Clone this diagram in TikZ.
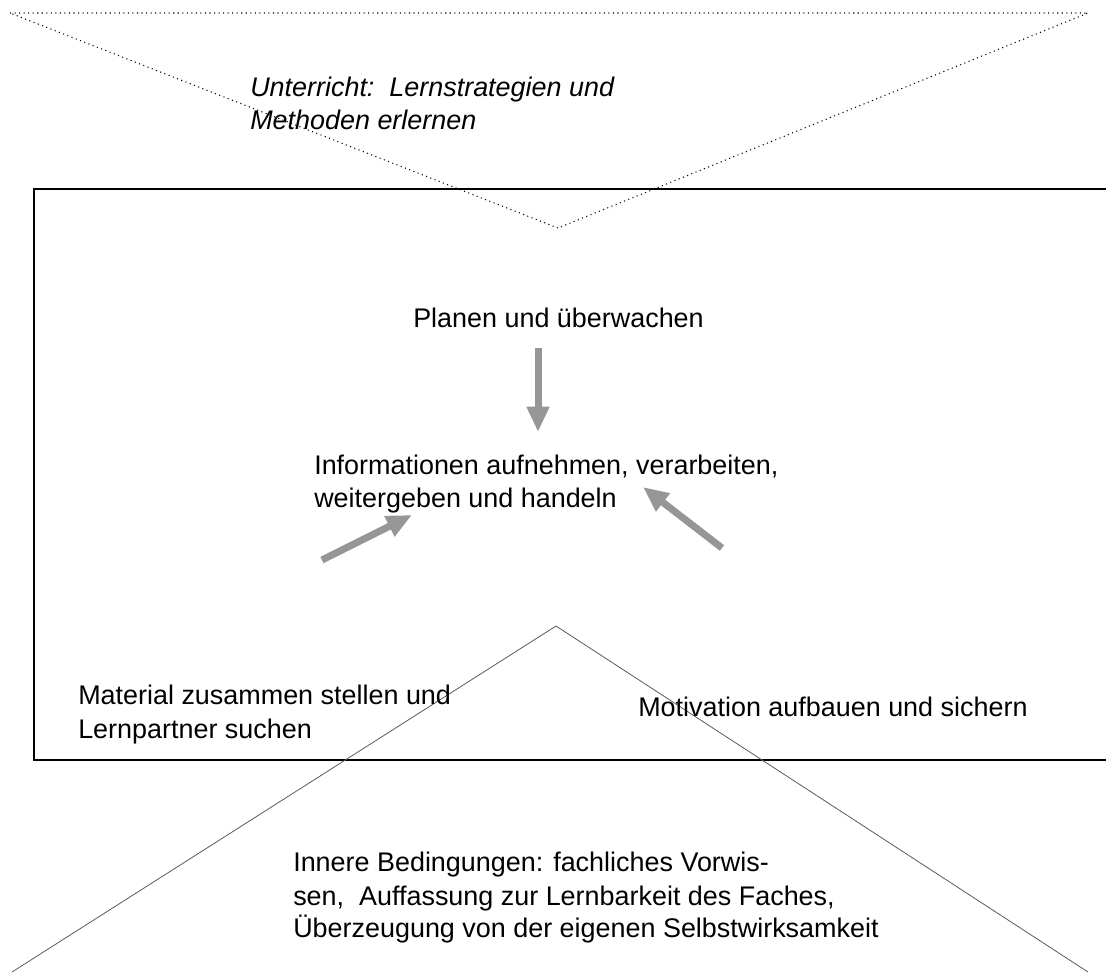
\documentclass[tikz,border=0pt]{standalone}
\usepackage{fontspec}
\setmainfont{Liberation Sans}
\usetikzlibrary{arrows.meta}
\definecolor{arrowgray}{RGB}{150,150,150}
\definecolor{thingray}{RGB}{90,90,90}
\tikzset{
  lbl/.style={anchor=base west, inner sep=0pt, font=\fontsize{20.2}{24.75}\selectfont},
  ilbl/.style={lbl, font=\fontsize{20.2}{24.75}\selectfont\itshape},
  garrow/.style={draw=arrowgray, line width=5.25pt, -{Triangle[length=19pt,width=16pt]}},
  dotline/.style={line width=0.8pt, dash pattern=on 0.8pt off 2.6pt},
  frame/.style={line width=1.5pt},
  thinline/.style={draw=thingray, line width=0.6pt}
}
\begin{document}
\begin{tikzpicture}[x=0.75pt,y=-0.75pt]
\useasboundingbox (0,0) rectangle (1106,972);
\begin{scope}
\clip (0,0) rectangle (1106,972);
% top dotted triangle
\draw[dotline] (10,13) -- (1088,13) -- (558,228) -- cycle;
% frame
\draw[frame] (34,189) rectangle (1125,760);
% bottom triangle
\coordinate (apex) at (556,626);
\coordinate (bl) at (12,972);
\coordinate (br) at (1088,972);
\draw[thinline] (bl) -- (apex) -- (br);
\end{scope}
% texts
\node[ilbl] (u1) at (250,96) {Unterricht:\ \ Lernstrategien und};
\node[ilbl] (u2) at (250,129) {Methoden erlernen};
\node[lbl] (plan) at (413,327) {Planen und überwachen};
\node[lbl] (info1) at (314,474) {Informationen aufnehmen, verarbeiten,};
\node[lbl] (info2) at (314,507) {weitergeben und handeln};
\node[lbl] (mat1) at (78,704) {Material zusammen stellen und};
\node[lbl] (mat2) at (78,738) {Lernpartner suchen};
\node[lbl] (mot) at (638,716) {Motivation aufbauen und sichern};
\node[lbl] (inn1) at (293,871) {Innere Bedingungen: fachliches Vorwis-};
\node[lbl] (inn2) at (293,905) {sen,\ \ Auffassung zur Lernbarkeit des Faches,};
\node[lbl] (inn3) at (293,937) {Überzeugung von der eigenen Selbstwirksamkeit};
% arrows
\coordinate (a1s) at (538,348);
\coordinate (a1e) at (538,432);
\coordinate (a2s) at (322,560);
\coordinate (a2e) at (412,515);
\coordinate (a3s) at (722,548);
\coordinate (a3e) at (643,487);
\draw[garrow] (a1s) -- (a1e);
\draw[garrow] (a2s) -- (a2e);
\draw[garrow] (a3s) -- (a3e);
\end{tikzpicture}
\end{document}
